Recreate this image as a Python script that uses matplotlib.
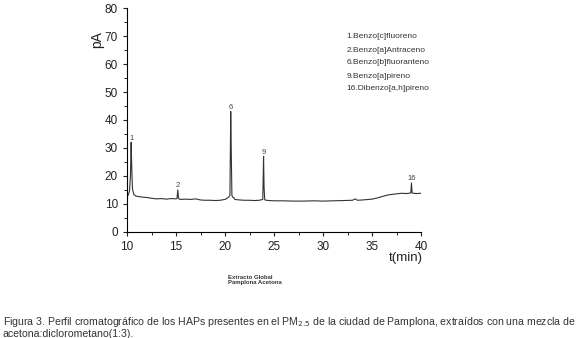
import matplotlib
matplotlib.use('Agg')
import matplotlib.pyplot as plt
from matplotlib.ticker import MultipleLocator

# chromatogram points (min, pA)
t_min = [10.0, 10.1, 10.25, 10.35, 10.42, 10.48, 10.55, 10.7, 10.9, 11.2, 11.6, 12.0, 12.5,
         13.0, 13.5, 14.0, 14.5, 15.0, 15.1, 15.18, 15.25, 15.4, 16.0, 16.5, 17.0, 17.5,
         18.0, 18.5, 19.0, 19.5, 20.0, 20.3, 20.5, 20.58, 20.63, 20.7, 20.8, 20.9, 21.0,
         21.5, 22.0, 22.5, 23.0, 23.5, 23.85, 23.93, 23.98, 24.05, 24.2, 24.5, 25.0, 26.0,
         27.0, 28.0, 29.0, 30.0, 31.0, 32.0, 33.0, 33.3, 33.5, 34.0, 35.0, 35.5, 36.0,
         36.5, 37.0, 37.5, 38.0, 38.5, 38.95, 39.02, 39.08, 39.2, 39.5, 40.0]
pA = [12.6, 13.0, 14.5, 20.0, 32.0, 23.5, 15.5, 13.3, 12.8, 12.6, 12.4, 12.3, 12.0,
      11.8, 11.9, 11.7, 11.9, 11.8, 12.0, 15.0, 12.0, 11.6, 11.7, 11.6, 11.8, 11.4,
      11.3, 11.3, 11.2, 11.3, 11.6, 12.2, 13.0, 43.0, 30.0, 13.0, 12.4, 12.2, 11.6,
      11.4, 11.3, 11.3, 11.2, 11.3, 11.6, 27.0, 16.0, 11.5, 11.3, 11.2, 11.1, 11.1,
      11.0, 11.0, 11.1, 11.0, 11.1, 11.2, 11.3, 11.8, 11.3, 11.4, 11.7, 12.1, 12.6,
      13.1, 13.4, 13.6, 13.8, 13.7, 13.9, 17.5, 14.0, 13.8, 13.7, 13.8]

peak_ids = ['1', '2', '6', '9', '16']
peak_t = [10.42, 15.18, 20.58, 23.93, 39.02]
peak_top = [32.0, 15.0, 43.0, 27.0, 17.5]

compounds = ['1.Benzo[c]fluoreno', '2.Benzo[a]Antraceno', '6.Benzo[b]fluoranteno',
             '9.Benzo[a]pireno', '16.Dibenzo[a,h]pireno']

plt.rcParams['font.family'] = ['Liberation Sans', 'DejaVu Sans']

fig = plt.figure(figsize=(5.8, 3.38), dpi=100)
ax = fig.add_axes([0.219, 0.314, 0.507, 0.662])
ax.plot(t_min, pA, color='#333333', linewidth=0.8)

ax.set_xlim(10, 40)
ax.set_ylim(0, 80)
ax.xaxis.set_major_locator(MultipleLocator(5))
ax.xaxis.set_minor_locator(MultipleLocator(2.5))
ax.yaxis.set_major_locator(MultipleLocator(10))
ax.yaxis.set_minor_locator(MultipleLocator(5))
for s in ['top', 'right']:
    ax.spines[s].set_visible(False)
ax.tick_params(labelsize=8.5, length=3, width=0.8, colors='#222222')
ax.tick_params(which='minor', length=2)
fig.text(97 / 580, 1 - 40 / 338, 'pA', fontsize=10, color='#222222', rotation=90,
         ha='center', va='center')

for lab, x, y in zip(peak_ids, peak_t, peak_top):
    ax.annotate(lab, (x, y), xytext=(0, 2), textcoords='offset points',
                fontsize=5.5, color='#444444', ha='center')

for i, c in enumerate(compounds):
    fig.text(0.597, 1 - (37 + 13 * i) / 338, c, fontsize=6, color='#333333',
             va='center')

fig.text(406 / 580, 1 - 258 / 338, 't(min)', fontsize=9.5, color='#222222',
         ha='center', va='center')
fig.text(0.393, 1 - 280 / 338, 'Extracto Global\nPamplona Acetona', fontsize=4.3,
         fontweight='bold', color='#333333', va='center', linespacing=1.2)

fig.text(0.005, 1 - 322 / 338,
         'Figura 3. Perfil cromatográfico de los HAPs presentes en el PM$_{2.5}$ de la ciudad '
         'de Pamplona, extraídos con una mezcla de',
         fontsize=7.6, color='#333333', va='center')
fig.text(0.005, 1 - 334 / 338, 'acetona:diclorometano(1:3).', fontsize=7.6,
         color='#333333', va='center')

fig.savefig('out.png')
